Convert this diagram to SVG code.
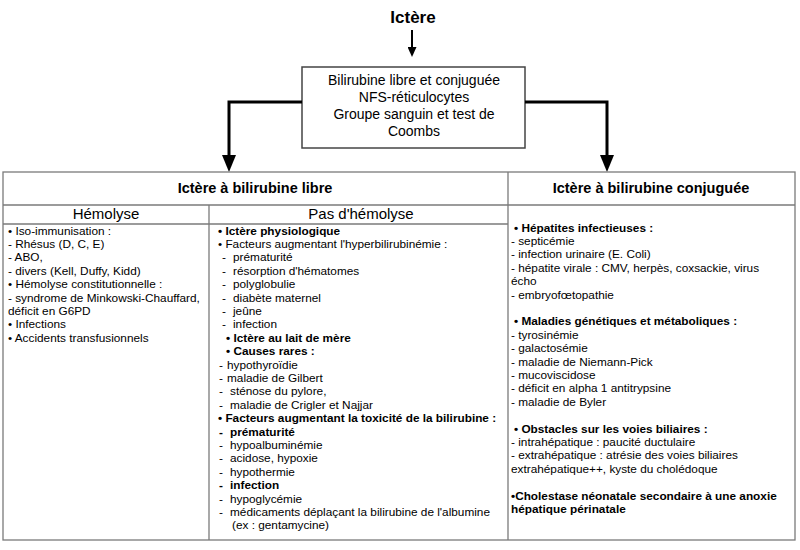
<svg xmlns="http://www.w3.org/2000/svg" width="800" height="550" viewBox="0 0 800 550">
<defs>
<style>
text{font-family:"Liberation Sans",Arial,sans-serif;fill:#000}
.title{font-size:17px;font-weight:bold}
.box{font-size:14px}
.hd{font-size:14.5px;font-weight:bold}
.sh{font-size:15px}
.t{font-size:11.8px}
.b{font-weight:bold}
.grid{stroke:#7a7a7a;stroke-width:1.3;fill:none}
.conn{stroke:#000;fill:none}
</style>
<marker id="headBig" viewBox="0 0 17 14" refX="0" refY="7" markerWidth="17" markerHeight="14" markerUnits="userSpaceOnUse" orient="auto"><path d="M0,0 L17,7 L0,14 z" fill="#000"/></marker>
<marker id="headSmall" viewBox="0 0 10 9" refX="0" refY="4.5" markerWidth="10" markerHeight="9" markerUnits="userSpaceOnUse" orient="auto"><path d="M0,0 L10,4.5 L0,9 z" fill="#000"/></marker>
</defs>
<rect width="800" height="550" fill="#fff"/>

<g id="title"><text class="title" x="413" y="23" text-anchor="middle">Ictère</text></g>

<g id="exams">
<rect x="302" y="67" width="223" height="81" fill="#fff" stroke="#444" stroke-width="1.5"/>
<text class="box" x="414" y="85" text-anchor="middle">Bilirubine libre et conjuguée</text>
<text class="box" x="414" y="102" text-anchor="middle">NFS-réticulocytes</text>
<text class="box" x="414" y="119" text-anchor="middle">Groupe sanguin et test de</text>
<text class="box" x="414" y="136" text-anchor="middle">Coombs</text>
</g>

<g id="connectors">
<path class="conn" d="M412,30 V47" stroke-width="2" marker-end="url(#headSmall)"/>
<path class="conn" d="M302,102 H229 V155" stroke-width="3" marker-end="url(#headBig)"/>
<path class="conn" d="M525,102 H607 V155" stroke-width="3" marker-end="url(#headBig)"/>
</g>

<g id="table-grid">
<rect class="grid" x="3" y="172" width="792" height="368"/>
<line class="grid" x1="3" y1="205" x2="795" y2="205"/>
<line class="grid" x1="3" y1="224" x2="508" y2="224"/>
<line class="grid" x1="508" y1="172" x2="508" y2="540"/>
<line class="grid" x1="209" y1="205" x2="209" y2="540"/>
</g>

<g id="header-libre"><text class="hd" x="255" y="193" text-anchor="middle">Ictère à bilirubine libre</text></g>
<g id="header-conjuguee"><text class="hd" x="651" y="193" text-anchor="middle">Ictère à bilirubine conjuguée</text></g>

<g id="hemolyse">
<text class="sh" x="106" y="219" text-anchor="middle">Hémolyse</text>
<text class="t" x="8" y="234.5">• Iso-immunisation :</text>
<text class="t" x="8" y="247.9">- Rhésus (D, C, E)</text>
<text class="t" x="8" y="261.3">- ABO,</text>
<text class="t" x="8" y="274.7">- divers (Kell, Duffy, Kidd)</text>
<text class="t" x="8" y="288.1">• Hémolyse constitutionnelle :</text>
<text class="t" x="8" y="301.5">- syndrome de Minkowski-Chauffard,</text>
<text class="t" x="8" y="314.9">déficit en G6PD</text>
<text class="t" x="8" y="328.3">• Infections</text>
<text class="t" x="8" y="341.7">• Accidents transfusionnels</text>
</g>

<g id="pas-hemolyse">
<text class="sh" x="361" y="219" text-anchor="middle">Pas d'hémolyse</text>
<text class="t b" x="218" y="234.5">• Ictère physiologique</text>
<text class="t" x="218" y="247.9">• Facteurs augmentant l'hyperbilirubinémie :</text>
<text class="t" y="261.3"><tspan x="222">-</tspan><tspan x="233">prématurité</tspan></text>
<text class="t" y="274.7"><tspan x="222">-</tspan><tspan x="233">résorption d'hématomes</tspan></text>
<text class="t" y="288.1"><tspan x="222">-</tspan><tspan x="233">polyglobulie</tspan></text>
<text class="t" y="301.5"><tspan x="222">-</tspan><tspan x="233">diabète maternel</tspan></text>
<text class="t" y="314.9"><tspan x="222">-</tspan><tspan x="233">jeûne</tspan></text>
<text class="t" y="328.3"><tspan x="222">-</tspan><tspan x="233">infection</tspan></text>
<text class="t b" x="226" y="341.7">• Ictère au lait de mère</text>
<text class="t b" x="226" y="355.1">• Causes rares :</text>
<text class="t" y="368.5"><tspan x="219">-</tspan><tspan x="227">hypothyroïdie</tspan></text>
<text class="t" y="381.9"><tspan x="219">-</tspan><tspan x="227">maladie de Gilbert</tspan></text>
<text class="t" y="395.3"><tspan x="219">-</tspan><tspan x="230">sténose du pylore,</tspan></text>
<text class="t" y="408.7"><tspan x="219">-</tspan><tspan x="230">maladie de Crigler et Najjar</tspan></text>
<text class="t b" x="218" y="422.1">• Facteurs augmentant la toxicité de la bilirubine :</text>
<text class="t b" y="435.5"><tspan x="219">-</tspan><tspan x="230">prématurité</tspan></text>
<text class="t" y="448.9"><tspan x="219">-</tspan><tspan x="230">hypoalbuminémie</tspan></text>
<text class="t" y="462.3"><tspan x="219">-</tspan><tspan x="230">acidose, hypoxie</tspan></text>
<text class="t" y="475.7"><tspan x="219">-</tspan><tspan x="230">hypothermie</tspan></text>
<text class="t b" y="489.1"><tspan x="219">-</tspan><tspan x="230">infection</tspan></text>
<text class="t" y="502.5"><tspan x="219">-</tspan><tspan x="230">hypoglycémie</tspan></text>
<text class="t" y="515.9"><tspan x="219">-</tspan><tspan x="230">médicaments déplaçant la bilirubine de l'albumine</tspan></text>
<text class="t" x="232" y="529.3">(ex : gentamycine)</text>
</g>

<g id="conjuguee">
<text class="t b" x="514" y="231.5">• Hépatites infectieuses :</text>
<text class="t" x="511" y="244.9">- septicémie</text>
<text class="t" x="511" y="258.3">- infection urinaire (E. Coli)</text>
<text class="t" x="511" y="271.7">- hépatite virale : CMV, herpès, coxsackie, virus</text>
<text class="t" x="511" y="285.1">écho</text>
<text class="t" x="511" y="298.5">- embryofœtopathie</text>
<text class="t b" x="514" y="325.3">• Maladies génétiques et métaboliques :</text>
<text class="t" x="511" y="338.7">- tyrosinémie</text>
<text class="t" x="511" y="352.1">- galactosémie</text>
<text class="t" x="511" y="365.5">- maladie de Niemann-Pick</text>
<text class="t" x="511" y="378.9">- mucoviscidose</text>
<text class="t" x="511" y="392.3">- déficit en alpha 1 antitrypsine</text>
<text class="t" x="511" y="405.7">- maladie de Byler</text>
<text class="t b" x="514" y="432.5">• Obstacles sur les voies biliaires :</text>
<text class="t" x="511" y="445.9">- intrahépatique : paucité ductulaire</text>
<text class="t" x="511" y="459.3">- extrahépatique : atrésie des voies biliaires</text>
<text class="t" x="511" y="472.7">extrahépatique++, kyste du cholédoque</text>
<text class="t b" x="511" y="499.5">•Cholestase néonatale secondaire à une anoxie</text>
<text class="t b" x="511" y="512.9">hépatique périnatale</text>
</g>
</svg>
